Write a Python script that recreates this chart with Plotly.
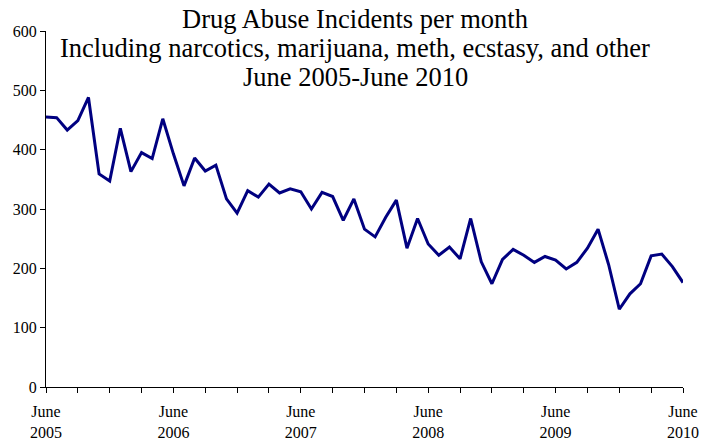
import plotly.graph_objects as go

incidents = [455, 454, 433, 449, 488, 359, 347, 436, 363, 395, 385, 452, 393,
             339, 386, 364, 374, 317, 293, 331, 320, 342, 327, 334, 329, 300,
             328, 321, 281, 317, 266, 253, 286, 315, 234, 284, 241, 222, 236,
             216, 284, 211, 174, 215, 232, 222, 210, 220, 214, 199, 210, 234,
             266, 206, 131, 157, 174, 221, 224, 203, 176]
month_index = list(range(len(incidents)))
tick_positions = list(range(0, 61, 3))
year_labels = {0: "June<br>2005", 12: "June<br>2006", 24: "June<br>2007",
               36: "June<br>2008", 48: "June<br>2009", 60: "June<br>2010"}
tick_text = [year_labels.get(t, "") for t in tick_positions]
title_lines = ["Drug Abuse Incidents per month",
               "Including narcotics, marijuana, meth, ecstasy, and other",
               "June 2005-June 2010"]

fig = go.Figure()
fig.add_trace(go.Scatter(x=month_index, y=incidents, mode="lines",
                         line=dict(color="#000080", width=3), showlegend=False))

font = "Liberation Serif, Times New Roman, serif"
# plot area: x 46..683 px, y 31..387 px
title_centers_px = [19, 48, 77]
for line, py in zip(title_lines, title_centers_px):
    fig.add_annotation(text=line, xref="paper", yref="paper",
                       x=(355 - 46) / 637, y=(387 - py) / 356,
                       xanchor="center", yanchor="middle", showarrow=False,
                       font=dict(family=font, size=26.5, color="black"))

fig.update_layout(
    width=701, height=441,
    margin=dict(l=46, r=18, t=31, b=54),
    paper_bgcolor="white", plot_bgcolor="white",
    font=dict(family=font, color="black"),
)
fig.update_xaxes(range=[0, 60], tickmode="array", tickvals=tick_positions, ticktext=tick_text,
                 ticks="outside", ticklen=5, tickcolor="black", showline=True, linecolor="black",
                 linewidth=1, showgrid=False, zeroline=False, tickangle=0, automargin=False,
                 ticklabelstandoff=5,
                 tickfont=dict(family=font, size=16, color="black"))
fig.update_yaxes(range=[0, 600], tickmode="linear", tick0=0, dtick=100,
                 ticks="outside", ticklen=5, tickcolor="black", showline=True, linecolor="black",
                 linewidth=1, showgrid=False, zeroline=False, automargin=False,
                 tickfont=dict(family=font, size=16, color="black"))

fig.write_html("out.html", config={"displayModeBar": False},
               post_script="document.body.style.margin='0';document.body.style.overflow='hidden';")
